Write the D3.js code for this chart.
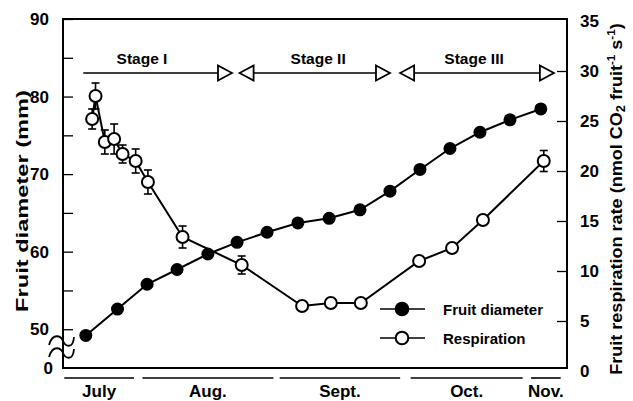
<!DOCTYPE html>
<html>
<head>
<meta charset="utf-8">
<script src="https://cdn.jsdelivr.net/npm/d3@7"></script>
<style>
  html, body { margin: 0; padding: 0; background: #fff; }
  svg { display: block; font-family: "Liberation Sans", Arial, sans-serif; font-weight: bold; }
</style>
</head>
<body>
<svg id="chart" width="633" height="401"></svg>
<script>
// days counted from July 1
var diamDay = [17.6, 25.1, 32.1, 39.2, 46.5, 53.4, 60.5, 67.8, 75.2, 82.5, 89.6, 96.7, 103.8, 110.9, 118.0, 125.3];
var diamMm = [49.2, 52.6, 55.8, 57.7, 59.7, 61.2, 62.5, 63.7, 64.3, 65.4, 67.8, 70.6, 73.3, 75.4, 77.0, 78.4];

var respDay = [19.1, 19.9, 22.1, 24.3, 26.3, 29.4, 32.3, 40.5, 54.5, 68.8, 75.6, 82.7, 96.5, 104.3, 111.6, 126.0];
var respRate = [25.2, 27.5, 22.9, 23.2, 21.7, 21.0, 18.9, 13.4, 10.6, 6.5, 6.8, 6.8, 11.0, 12.3, 15.1, 21.0];
var respErr = [1.0, 1.3, 1.2, 1.5, 0.9, 1.2, 1.2, 1.1, 0.9, 0, 0, 0, 0, 0, 0, 1.05];

var months = ["July", "Aug.", "Sept.", "Oct.", "Nov."];
var monthStart = [12.5, 31, 63.5, 94.5, 123];
var monthEnd = [29, 62, 92, 121, 130];

var stages = ["Stage I", "Stage II", "Stage III"];
var stageStart = [17, 54, 92];
var stageEnd = [52.2, 89.6, 128.4];
var stageLabelDay = [30.9, 72.6, 109.5];

var leftTicks = [50, 55, 60, 65, 70, 75, 80, 85, 90];
var rightTicks = [0, 5, 10, 15, 20, 25, 30, 35];

var svg = d3.select("#chart");
var x0 = 63, x1 = 567, yTop = 19, yBot = 368;

var x = d3.scaleLinear().domain([12.2, 131.5]).range([x0, x1]);
var yL = d3.scaleLinear().domain([45, 90]).range([yBot, yTop]);
var yR = d3.scaleLinear().domain([0, 35]).range([371, 21]);

// frame
svg.append("rect")
    .attr("x", x0).attr("y", yTop)
    .attr("width", x1 - x0).attr("height", yBot - yTop)
    .attr("fill", "none").attr("stroke", "#000").attr("stroke-width", 2);

// left axis, ticks pointing inward
var leftAxis = d3.axisLeft(yL)
    .tickValues(leftTicks)
    .tickSizeInner(-10).tickSizeOuter(0)
    .tickPadding(14)
    .tickFormat(function(d) { return d % 10 === 0 ? d : ""; });
var gl = svg.append("g").attr("transform", "translate(" + x0 + ",0)").call(leftAxis);
gl.select(".domain").remove();
gl.selectAll(".tick line").attr("stroke-width", 1.3);
gl.selectAll("text").attr("font-size", 17).attr("font-family", null).attr("fill", "#000");
svg.append("text").attr("x", 53).attr("y", yL(45)).attr("dy", "0.35em")
    .attr("text-anchor", "end").attr("font-size", 17).text("0");

// right axis
var rightAxis = d3.axisRight(yR)
    .tickValues(rightTicks)
    .tickSizeInner(-10).tickSizeOuter(0)
    .tickPadding(13)
    .tickFormat(d3.format("d"));
var gr = svg.append("g").attr("transform", "translate(" + x1 + ",0)").call(rightAxis);
gr.select(".domain").remove();
gr.selectAll(".tick line").attr("stroke-width", 1.3)
    .attr("display", function(d) { return d === 0 || d === 35 ? "none" : null; });
gr.selectAll("text").attr("font-size", 17).attr("font-family", null).attr("fill", "#000");

// axis break on left axis
[341, 353].forEach(function(cy) {
    svg.append("path")
        .attr("d", "M" + (x0 - 14) + "," + (cy + 4) +
            " C" + (x0 - 10) + "," + (cy - 9) + " " + (x0 - 2) + "," + (cy - 5) + " " + x0 + "," + cy +
            " S" + (x0 + 10) + "," + (cy + 9) + " " + (x0 + 11) + "," + (cy - 4))
        .attr("fill", "none").attr("stroke", "#000").attr("stroke-width", 1.8);
});

// month bars and labels
months.forEach(function(m, i) {
    svg.append("line")
        .attr("x1", x(monthStart[i])).attr("x2", x(monthEnd[i]))
        .attr("y1", 378).attr("y2", 378)
        .attr("stroke", "#000").attr("stroke-width", 1.6);
    svg.append("text")
        .attr("x", (x(monthStart[i]) + x(monthEnd[i])) / 2).attr("y", 397)
        .attr("text-anchor", "middle").attr("font-size", 17).text(m);
});

// stage arrows
function tri(tipX, cy, dir) {
    var w = 14, h = 7.5;
    return "M" + tipX + "," + cy + " L" + (tipX - dir * w) + "," + (cy - h) +
        " L" + (tipX - dir * w) + "," + (cy + h) + " Z";
}
var ay = 73;
stages.forEach(function(s, i) {
    var sx = x(stageStart[i]), ex = x(stageEnd[i]);
    svg.append("line")
        .attr("x1", i === 0 ? sx : sx + 14).attr("x2", ex - 14)
        .attr("y1", ay).attr("y2", ay)
        .attr("stroke", "#000").attr("stroke-width", 1.6);
    svg.append("path").attr("d", tri(ex, ay, 1))
        .attr("fill", "#fff").attr("stroke", "#000").attr("stroke-width", 1.8);
    if (i > 0) {
        svg.append("path").attr("d", tri(sx, ay, -1))
            .attr("fill", "#fff").attr("stroke", "#000").attr("stroke-width", 1.8);
    }
    svg.append("text")
        .attr("x", x(stageLabelDay[i])).attr("y", 64)
        .attr("text-anchor", "middle").attr("font-size", 15.5).text(s);
});

// respiration series (right axis)
var resp = respDay.map(function(d, i) { return { d: d, v: respRate[i], e: respErr[i] }; });
var diam = diamDay.map(function(d, i) { return { d: d, v: diamMm[i] }; });

svg.append("path").datum(resp)
    .attr("d", d3.line().x(function(p) { return x(p.d); }).y(function(p) { return yR(p.v); }))
    .attr("fill", "none").attr("stroke", "#000").attr("stroke-width", 2);

svg.append("path").datum(diam)
    .attr("d", d3.line().x(function(p) { return x(p.d); }).y(function(p) { return yL(p.v); }))
    .attr("fill", "none").attr("stroke", "#000").attr("stroke-width", 2);

var eb = svg.append("g").selectAll("g").data(resp.filter(function(p) { return p.e > 0; }))
    .enter().append("g").attr("stroke", "#000").attr("stroke-width", 1.6);
eb.append("line")
    .attr("x1", function(p) { return x(p.d); }).attr("x2", function(p) { return x(p.d); })
    .attr("y1", function(p) { return yR(p.v + p.e); }).attr("y2", function(p) { return yR(p.v - p.e); });
eb.append("line")
    .attr("x1", function(p) { return x(p.d) - 4; }).attr("x2", function(p) { return x(p.d) + 4; })
    .attr("y1", function(p) { return yR(p.v + p.e); }).attr("y2", function(p) { return yR(p.v + p.e); });
eb.append("line")
    .attr("x1", function(p) { return x(p.d) - 4; }).attr("x2", function(p) { return x(p.d) + 4; })
    .attr("y1", function(p) { return yR(p.v - p.e); }).attr("y2", function(p) { return yR(p.v - p.e); });

svg.append("g").selectAll("circle").data(diam).enter().append("circle")
    .attr("cx", function(p) { return x(p.d); }).attr("cy", function(p) { return yL(p.v); })
    .attr("r", 6.5).attr("fill", "#000");

svg.append("g").selectAll("circle").data(resp).enter().append("circle")
    .attr("cx", function(p) { return x(p.d); }).attr("cy", function(p) { return yR(p.v); })
    .attr("r", 6).attr("fill", "#fff").attr("stroke", "#000").attr("stroke-width", 2);

// legend
var legend = svg.append("g");
[["Fruit diameter", "#000", 309], ["Respiration", "#fff", 338]].forEach(function(l) {
    legend.append("line").attr("x1", 380).attr("x2", 425).attr("y1", l[2]).attr("y2", l[2])
        .attr("stroke", "#000").attr("stroke-width", 1.6);
    legend.append("circle").attr("cx", 402).attr("cy", l[2]).attr("r", 6.3)
        .attr("fill", l[1]).attr("stroke", "#000").attr("stroke-width", 2);
    legend.append("text").attr("x", 443).attr("y", l[2] + 6)
        .attr("font-size", 15).text(l[0]);
});

// axis titles, stretched along their length to match the original
function vTitle(cx, cy, len, size, build) {
    var g = svg.append("g").attr("transform", "translate(" + cx + "," + cy + ") rotate(-90)");
    var t = g.append("text").attr("text-anchor", "middle").attr("font-size", size);
    build(t);
    var w = t.node().getComputedTextLength();
    t.attr("transform", "scale(" + (len / w) + ",1)");
}
vTitle(28, 201, 222, 16, function(t) { t.text("Fruit diameter (mm)"); });
vTitle(622, 199, 352, 17, function(t) {
    t.append("tspan").text("Fruit respiration rate (nmol CO");
    t.append("tspan").attr("font-size", 12).attr("dy", 3).text("2");
    t.append("tspan").attr("dy", -3).text(" fruit");
    t.append("tspan").attr("font-size", 11).attr("dy", -7).text("-1");
    t.append("tspan").attr("dy", 7).text(" s");
    t.append("tspan").attr("font-size", 11).attr("dy", -7).text("-1");
    t.append("tspan").attr("dy", 7).text(")");
});
</script>
</body>
</html>
